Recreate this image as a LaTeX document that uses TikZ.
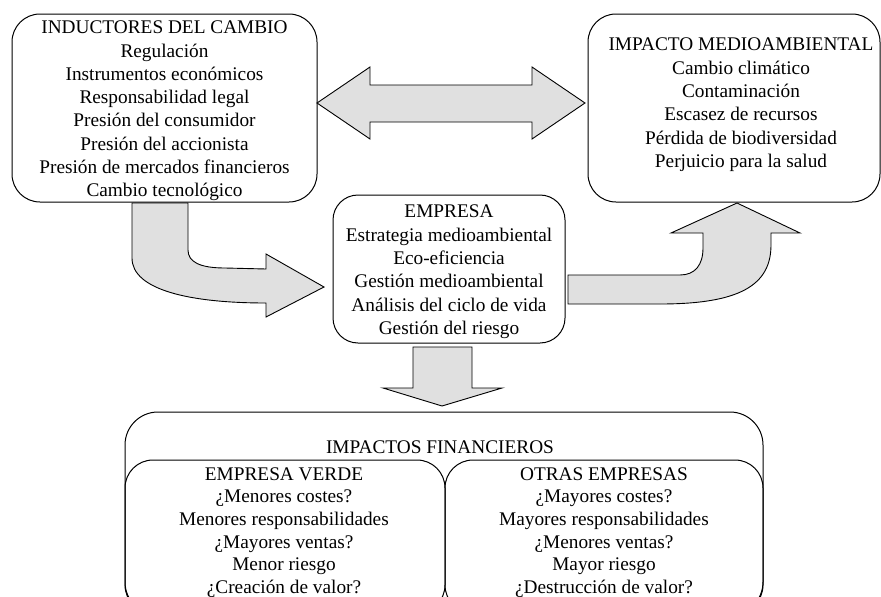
\documentclass[tikz,border=0pt]{standalone}
\usepackage{fontspec}
\setmainfont{Liberation Serif}
\definecolor{arrowfill}{RGB}{224,224,224}
\begin{document}
\begin{tikzpicture}[x=1pt,y=-1pt,
  box/.style={draw, line width=1pt, inner sep=0pt, outer sep=0pt, rounded corners=28pt},
  txt/.style={align=center, font=\fontsize{19.3}{23.3}\selectfont, inner sep=0pt},
  btxt/.style={align=center, font=\fontsize{19.3}{22.7}\selectfont, inner sep=0pt},
  barrow/.style={draw, fill=arrowfill, line width=0.9pt, line join=miter}]
\useasboundingbox (0,0) rectangle (881,597);
\begin{scope}
\clip (0,0) rectangle (881,597);
% boxes
\node[box, minimum width=305pt, minimum height=188pt] (drivers) at (164.5,108) {};
\node[box, minimum width=292pt, minimum height=188pt] (envimpact) at (734,108) {};
\node[box, rounded corners=25pt, minimum width=232pt, minimum height=148pt] (firm) at (449,269) {};
\node[box, rounded corners=33pt, minimum width=638pt, minimum height=203pt] (finimpact) at (444,513.5) {};
\node[box, minimum width=320pt, minimum height=153pt] (green) at (285,536.5) {};
\node[box, minimum width=318pt, minimum height=153pt] (others) at (604,536.5) {};
% texts
\node[txt] (t1) at (164.5,111) {INDUCTORES DEL CAMBIO\\Regulación\\Instrumentos económicos\\Responsabilidad legal\\Presión del consumidor\\Presión del accionista\\Presión de mercados financieros\\Cambio tecnológico};
\node[txt] (t2) at (741,104.8) {IMPACTO MEDIOAMBIENTAL\\Cambio climático\\Contaminación\\Escasez de recursos\\Pérdida de biodiversidad\\Perjuicio para la salud};
\node[txt] (t3) at (449,271.8) {EMPRESA\\Estrategia medioambiental\\Eco-eficiencia\\Gestión medioambiental\\Análisis del ciclo de vida\\Gestión del riesgo};
\node[txt] (t4) at (440,447) {IMPACTOS FINANCIEROS};
\node[btxt] (t5) at (284,532.5) {EMPRESA VERDE\\¿Menores costes?\\Menores responsabilidades\\¿Mayores ventas?\\Menor riesgo\\¿Creación de valor?};
\node[btxt] (t6) at (604,532.5) {OTRAS EMPRESAS\\¿Mayores costes?\\Mayores responsabilidades\\¿Menores ventas?\\Mayor riesgo\\¿Destrucción de valor?};
% block arrows
\draw[barrow] (317,103) -- (370,67) -- (370,85) -- (532,85) -- (532,67) -- (585,103)
  -- (532,139) -- (532,122) -- (370,122) -- (370,139) -- cycle;
\draw[barrow] (132,203) -- (132,258) .. controls (132,290) and (190,303) .. (266,303)
  -- (266,317) -- (324,287) -- (266,254) -- (266,269) -- (225,268)
  .. controls (200,268) and (188,262) .. (188,250) -- (188,203) -- cycle;
\draw[barrow] (568,275) -- (680,275) .. controls (695,275) and (703,265) .. (703,248)
  -- (703,233) -- (671,233) -- (737,203) -- (800,233) -- (771,233) -- (771,245)
  .. controls (771,285) and (740,304) .. (660,304) -- (568,304) -- cycle;
\draw[barrow] (413,347) -- (472,347) -- (472,388) -- (502,388) -- (442,406)
  -- (383,388) -- (413,388) -- cycle;
\end{scope}
\end{tikzpicture}
\end{document}
